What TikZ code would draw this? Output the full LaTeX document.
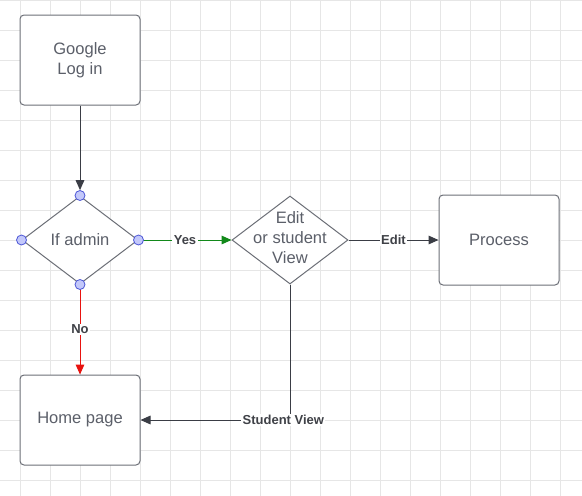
\documentclass[tikz,border=0pt]{standalone}
\usepackage{fontspec}
\setmainfont{Liberation Sans}
\usetikzlibrary{arrows.meta,shapes.geometric}
\definecolor{gridc}{HTML}{E6E6E6}
\definecolor{boxc}{HTML}{6C6F77}
\definecolor{txtc}{HTML}{5B5F69}
\definecolor{lblc}{HTML}{3F4147}
\definecolor{arrc}{HTML}{3A3D45}
\definecolor{yesc}{HTML}{12891A}
\definecolor{noc}{HTML}{E8130F}
\definecolor{dotfill}{HTML}{C3C8FA}
\definecolor{dotdraw}{HTML}{4B55D6}
\pgfdeclarelayer{bg}
\pgfdeclarelayer{edges}
\pgfsetlayers{bg,edges,main}
\begin{document}
\begin{tikzpicture}[x=0.75pt,y=-0.75pt,
  procbox/.style={draw=boxc, line width=0.75pt, rounded corners=3pt, minimum width=90pt, minimum height=67.5pt, inner sep=0pt, fill=white, text=txtc, font=\fontsize{12.4}{15}\selectfont, align=center},
  decision/.style={diamond, draw=boxc, line width=0.75pt, minimum width=87pt, minimum height=66pt, inner sep=0pt, fill=white},
  dtext/.style={text=txtc, font=\fontsize{12.4}{15}\selectfont, align=center, inner sep=0pt},
  port/.style={circle, draw=dotdraw, fill=dotfill, minimum size=7.5pt, inner sep=0pt, line width=0.6pt},
  conn/.style={line width=0.75pt, -{Triangle[length=7.5pt,width=6.5pt]}},
  lbl/.style={fill=white, font=\bfseries\fontsize{9.75}{11}\selectfont, text=lblc, inner sep=1pt}]
\useasboundingbox (0,0) rectangle (582,496);
\begin{pgfonlayer}{bg}
  \fill[white] (0,0) rectangle (582,496);
  \foreach \x in {20,50,...,560} \draw[gridc, line width=0.75pt] (\x,0) -- (\x,496);
  \foreach \y in {0,30,...,480} \draw[gridc, line width=0.75pt] (0,\y) -- (582,\y);
\end{pgfonlayer}

\node[procbox] (g) at (80,60) {Google\\Log in};
\node[decision] (a) at (80,240) {};
\node[dtext] (at) at (a.center) {If admin};
\node[decision] (e) at (290,240) {};
\node[dtext, yshift=1.5pt] (et) at (e.center) {Edit\\or student\\View};
\node[procbox] (p) at (499,240) {Process};
\node[procbox] (h) at (80,420) {Home page};

\node[port] (pt) at (a.north) {};
\node[port] (pl) at (a.west) {};
\node[port] (pr) at (a.east) {};
\node[port] (pb) at (a.south) {};

\begin{pgfonlayer}{edges}
  \draw[conn, arrc] (g.south) -- (pt.north);
  \draw[conn, yesc] (pr.center) -- node[lbl] {Yes} (e.west);
  \draw[conn, arrc] (e.east) -- node[lbl] {Edit} (p.west);
  \draw[conn, noc] (pb.center) -- node[lbl] {No} (h.north);
  \draw[conn, arrc] (e.south) |- node[lbl, pos=0.5, xshift=-5pt] {Student View} (h.east);
\end{pgfonlayer}
\end{tikzpicture}
\end{document}
